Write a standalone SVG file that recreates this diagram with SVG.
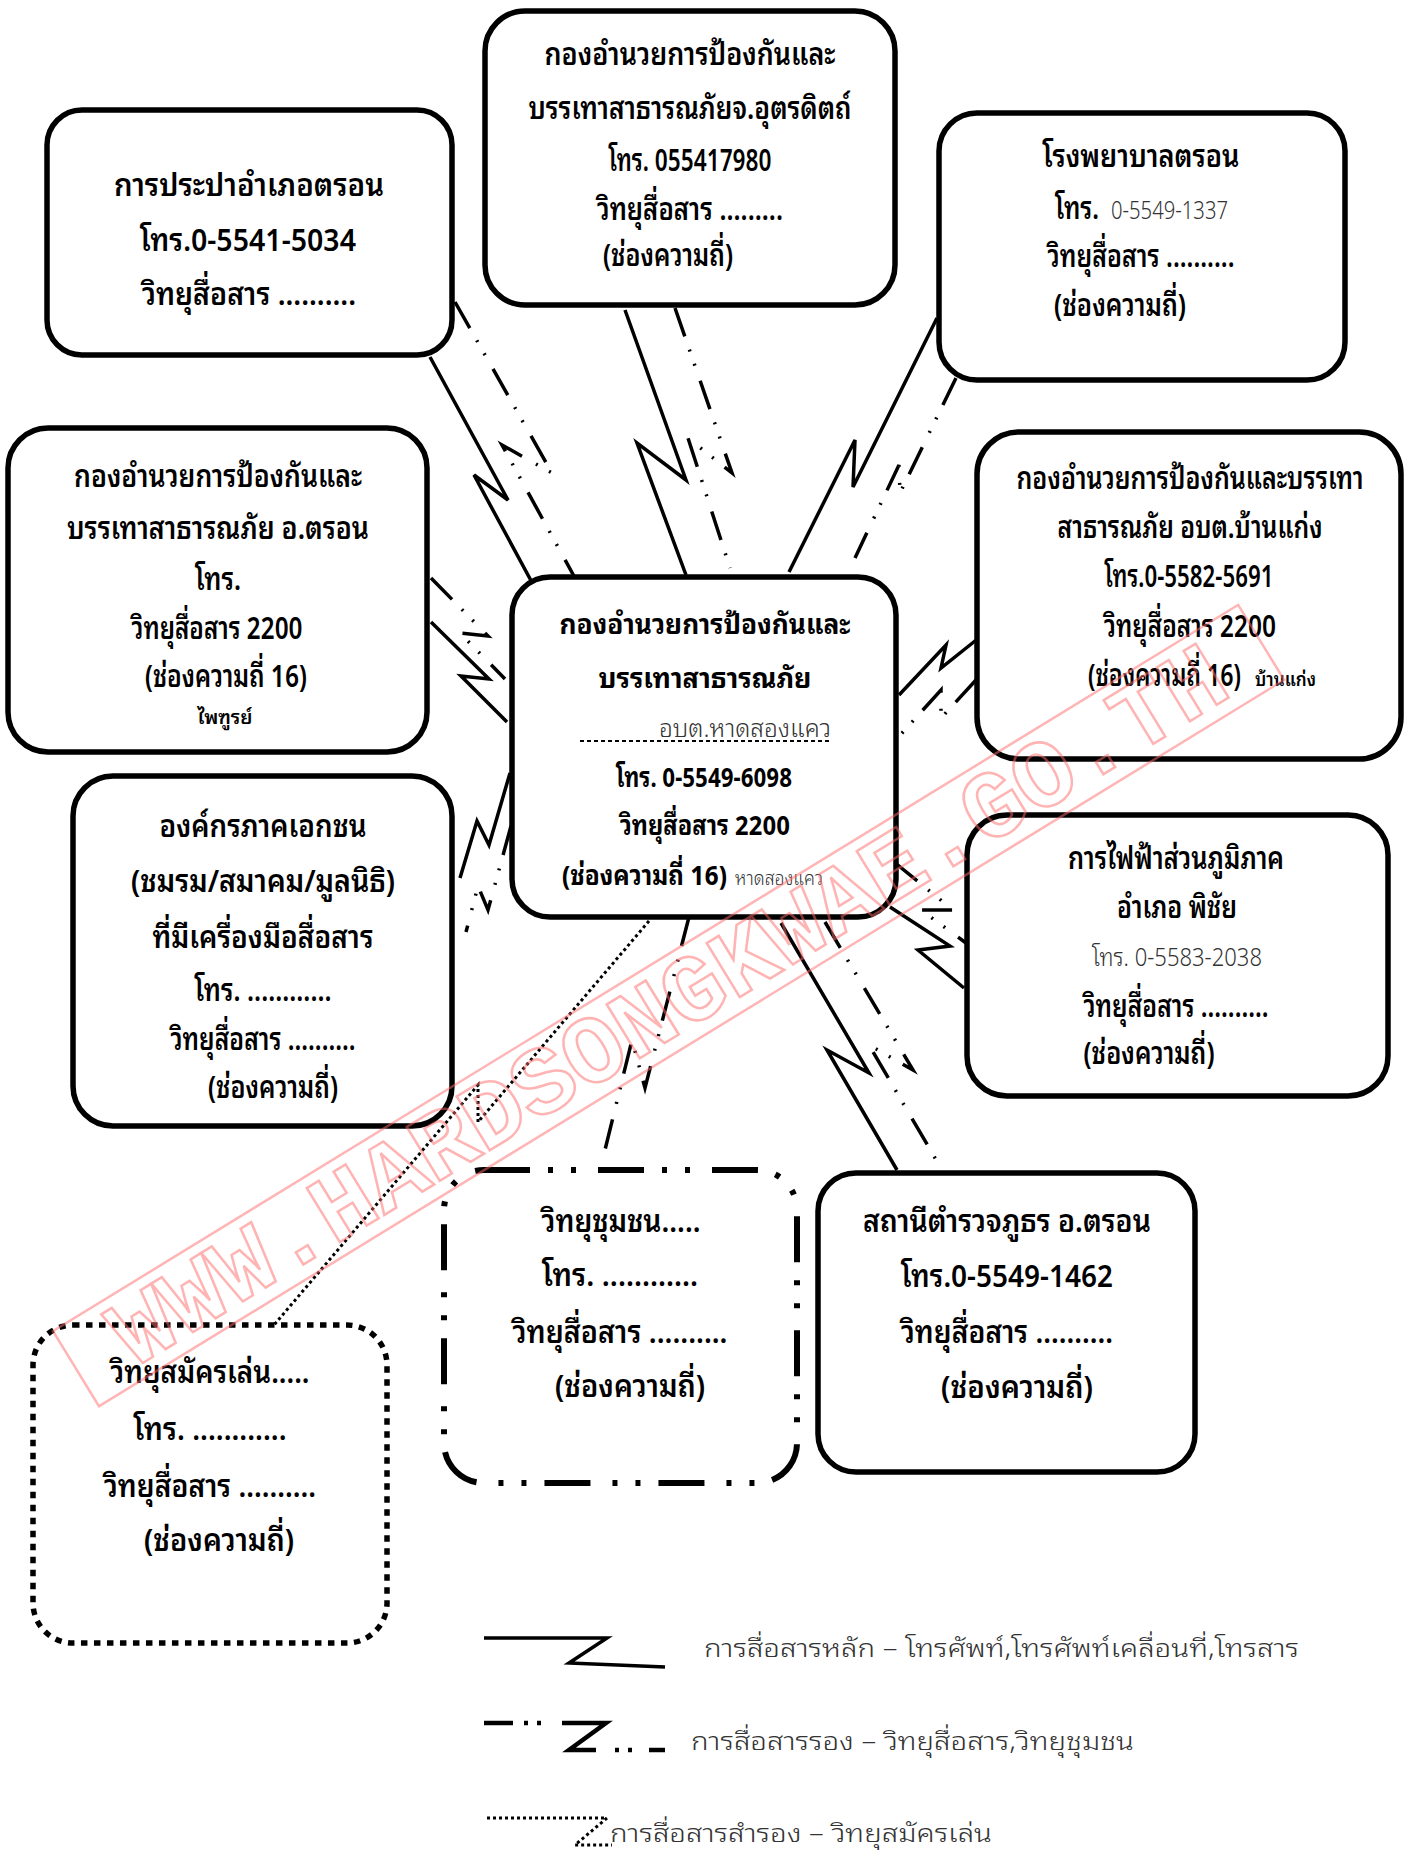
<svg xmlns="http://www.w3.org/2000/svg" width="1414" height="1850" viewBox="0 0 1414 1850">
<style>
.bg{fill:#fff}
.box{fill:#fff;stroke:#000;stroke-width:5.5}
.t{font-family:"Noto Sans Thai Looped","Garuda","Loma","Noto Serif Thai","Noto Sans Thai","Noto Sans",sans-serif;font-size:31px;font-weight:600;text-anchor:middle;fill:#000}
.s{text-anchor:start}
.b{font-weight:bold;font-size:27px}
.l{font-weight:300;fill:#333;font-size:25px}
.sm{font-size:19px}
.con{fill:none;stroke:#000;stroke-width:3.5;stroke-linejoin:miter}
.dd{stroke-dasharray:30 14 2 13 2 16}
.dt{stroke-dasharray:3 3;stroke-width:3}
.wm{fill:none;stroke:#ff6b6b;stroke-width:2.5;opacity:0.5}
</style>
<rect class="bg" x="0" y="0" width="1414" height="1850"/>

<g id="connectors">
  <path class="con" d="M430,357 L508,500 L474,475 L535,588"/>
  <path class="con dd" d="M455,302 L552,473 L502,445 L575,578"/>
  <path class="con" d="M625,310 L686,480 L637,443 L686,575"/>
  <path class="con dd" d="M675,308 L732,473 L688,438 L730,568"/>
  <path class="con" d="M937,318 L853,487 L855,440 L789,572"/>
  <path class="con dd" d="M956,378 L900,493 L899,465 L855,558"/>
  <path class="con" d="M431,622 L489,679 L461,676 L507,722"/>
  <path class="con dd" d="M431,578 L488,636 L460,633 L505,679"/>
  <path class="con" d="M980,637 L941,668 L946,645 L899,695"/>
  <path class="con dd" d="M976,680 L941,718 L941,690 L894,742"/>
  <path class="con" d="M510,773 L489,845 L477,821 L460,878"/>
  <path class="con dd" d="M511,826 L488,910 L478,886 L466,932"/>
  <path class="con" d="M890,907 L950,946 L918,950 L964,988"/>
  <path class="con dd" d="M894,862 L953,910 L921,910 L966,943"/>
  <path class="con" d="M781,923 L869,1073 L827,1050 L897,1170"/>
  <path class="con dd" d="M825,922 L913,1070 L869,1045 L938,1163"/>
  <path class="con dd" d="M689,917 L645,1088 L632,1040 L603,1158"/>
  <path class="con dt" d="M649,921 L478,1122 L478,1085 L274,1325"/>
</g>

<g id="n1">
  <rect class="box" x="47" y="110" width="405" height="245" rx="35"/>
  <text class="t" x="249" y="196" textLength="270" lengthAdjust="spacingAndGlyphs">การประปาอำเภอตรอน</text>
  <text class="t" x="248" y="251" textLength="216" lengthAdjust="spacingAndGlyphs">โทร.0-5541-5034</text>
  <text class="t" x="249" y="305" textLength="214" lengthAdjust="spacingAndGlyphs">วิทยุสื่อสาร ..........</text>
</g>

<g id="n2">
  <rect class="box" x="485" y="11" width="410" height="294" rx="40"/>
  <text class="t" x="690" y="65" textLength="291" lengthAdjust="spacingAndGlyphs">กองอำนวยการป้องกันและ</text>
  <text class="t" x="690" y="119" textLength="323" lengthAdjust="spacingAndGlyphs">บรรเทาสาธารณภัยจ.อุตรดิตถ์</text>
  <text class="t" x="690" y="171" textLength="163" lengthAdjust="spacingAndGlyphs">โทร. 055417980</text>
  <text class="t" x="690" y="220" textLength="186" lengthAdjust="spacingAndGlyphs">วิทยุสื่อสาร .........</text>
  <text class="t" x="668" y="266" textLength="130" lengthAdjust="spacingAndGlyphs">(ช่องความถี่)</text>
</g>

<g id="n3">
  <rect class="box" x="939" y="113" width="406" height="267" rx="38"/>
  <text class="t" x="1141" y="167" textLength="197" lengthAdjust="spacingAndGlyphs">โรงพยาบาลตรอน</text>
  <text class="t s" x="1055" y="219" textLength="44" lengthAdjust="spacingAndGlyphs">โทร.</text>
  <text class="t s l" x="1111" y="219" textLength="117" lengthAdjust="spacingAndGlyphs">0-5549-1337</text>
  <text class="t" x="1141" y="267" textLength="187" lengthAdjust="spacingAndGlyphs">วิทยุสื่อสาร ..........</text>
  <text class="t" x="1120" y="316" textLength="132" lengthAdjust="spacingAndGlyphs">(ช่องความถี่)</text>
</g>

<g id="n4">
  <rect class="box" x="8" y="428" width="419" height="324" rx="40"/>
  <text class="t" x="218" y="487" textLength="288" lengthAdjust="spacingAndGlyphs">กองอำนวยการป้องกันและ</text>
  <text class="t" x="218" y="539" textLength="302" lengthAdjust="spacingAndGlyphs">บรรเทาสาธารณภัย อ.ตรอน</text>
  <text class="t" x="218" y="590" textLength="46" lengthAdjust="spacingAndGlyphs">โทร.</text>
  <text class="t" x="217" y="639" textLength="171" lengthAdjust="spacingAndGlyphs">วิทยุสื่อสาร 2200</text>
  <text class="t" x="226" y="687" textLength="162" lengthAdjust="spacingAndGlyphs">(ช่องความถี่ 16)</text>
  <text class="t sm" x="225" y="724" textLength="55" lengthAdjust="spacingAndGlyphs">ไพฑูรย์</text>
</g>

<g id="n5">
  <rect class="box" x="977" y="432" width="424" height="327" rx="42"/>
  <text class="t" x="1190" y="489" textLength="347" lengthAdjust="spacingAndGlyphs">กองอำนวยการป้องกันและบรรเทา</text>
  <text class="t" x="1190" y="538" textLength="265" lengthAdjust="spacingAndGlyphs">สาธารณภัย อบต.บ้านแก่ง</text>
  <text class="t" x="1189" y="587" textLength="169" lengthAdjust="spacingAndGlyphs">โทร.0-5582-5691</text>
  <text class="t" x="1190" y="637" textLength="172" lengthAdjust="spacingAndGlyphs">วิทยุสื่อสาร 2200</text>
  <text class="t s" x="1088" y="686" textLength="153" lengthAdjust="spacingAndGlyphs">(ช่องความถี่ 16)</text>
  <text class="t s sm" x="1255" y="686" textLength="61" lengthAdjust="spacingAndGlyphs">บ้านแก่ง</text>
</g>

<g id="n6">
  <rect class="box" x="512" y="577" width="384" height="340" rx="38"/>
  <text class="t b" x="705" y="634" textLength="291" lengthAdjust="spacingAndGlyphs">กองอำนวยการป้องกันและ</text>
  <text class="t b" x="705" y="688" textLength="213" lengthAdjust="spacingAndGlyphs">บรรเทาสาธารณภัย</text>
  <line x1="580" y1="741" x2="831" y2="741" stroke="#000" stroke-width="2" stroke-dasharray="4 3"/>
  <text class="t s l" x="659" y="737" textLength="172" lengthAdjust="spacingAndGlyphs">อบต.หาดสองแคว</text>
  <text class="t b" x="704" y="787" textLength="176" lengthAdjust="spacingAndGlyphs">โทร. 0-5549-6098</text>
  <text class="t b" x="705" y="835" textLength="170" lengthAdjust="spacingAndGlyphs">วิทยุสื่อสาร 2200</text>
  <text class="t b s" x="562" y="885" textLength="165" lengthAdjust="spacingAndGlyphs">(ช่องความถี่ 16)</text>
  <text class="t s l sm" x="735" y="885" textLength="88" lengthAdjust="spacingAndGlyphs">หาดสองแคว</text>
</g>

<g id="n7">
  <rect class="box" x="73" y="776" width="379" height="350" rx="40"/>
  <text class="t" x="263" y="837" textLength="207" lengthAdjust="spacingAndGlyphs">องค์กรภาคเอกชน</text>
  <text class="t" x="263" y="892" textLength="264" lengthAdjust="spacingAndGlyphs">(ชมรม/สมาคม/มูลนิธิ)</text>
  <text class="t" x="263" y="948" textLength="221" lengthAdjust="spacingAndGlyphs">ที่มีเครื่องมือสื่อสาร</text>
  <text class="t" x="263" y="1001" textLength="137" lengthAdjust="spacingAndGlyphs">โทร. ............</text>
  <text class="t" x="263" y="1050" textLength="185" lengthAdjust="spacingAndGlyphs">วิทยุสื่อสาร ..........</text>
  <text class="t" x="273" y="1098" textLength="130" lengthAdjust="spacingAndGlyphs">(ช่องความถี่)</text>
</g>

<g id="n8">
  <rect class="box" x="967" y="815" width="421" height="281" rx="40"/>
  <text class="t" x="1176" y="869" textLength="216" lengthAdjust="spacingAndGlyphs">การไฟฟ้าส่วนภูมิภาค</text>
  <text class="t" x="1177" y="918" textLength="120" lengthAdjust="spacingAndGlyphs">อำเภอ พิชัย</text>
  <text class="t l" x="1177" y="966" textLength="170" lengthAdjust="spacingAndGlyphs">โทร. 0-5583-2038</text>
  <text class="t" x="1176" y="1017" textLength="185" lengthAdjust="spacingAndGlyphs">วิทยุสื่อสาร ..........</text>
  <text class="t" x="1149" y="1064" textLength="131" lengthAdjust="spacingAndGlyphs">(ช่องความถี่)</text>
</g>

<g id="n9">
  <rect x="444" y="1170" width="353" height="313" rx="40" fill="#fff" stroke="#000" stroke-width="6" stroke-dasharray="46 18 5 18 5 22"/>
  <text class="t" x="621" y="1232" textLength="159" lengthAdjust="spacingAndGlyphs">วิทยุชุมชน.....</text>
  <text class="t" x="620" y="1286" textLength="156" lengthAdjust="spacingAndGlyphs">โทร. ............</text>
  <text class="t" x="620" y="1343" textLength="215" lengthAdjust="spacingAndGlyphs">วิทยุสื่อสาร ..........</text>
  <text class="t" x="630" y="1397" textLength="150" lengthAdjust="spacingAndGlyphs">(ช่องความถี่)</text>
</g>

<g id="n10">
  <rect class="box" x="818" y="1173" width="377" height="299" rx="38"/>
  <text class="t" x="1007" y="1232" textLength="288" lengthAdjust="spacingAndGlyphs">สถานีตำรวจภูธร อ.ตรอน</text>
  <text class="t" x="1007" y="1287" textLength="212" lengthAdjust="spacingAndGlyphs">โทร.0-5549-1462</text>
  <text class="t" x="1007" y="1343" textLength="212" lengthAdjust="spacingAndGlyphs">วิทยุสื่อสาร ..........</text>
  <text class="t" x="1017" y="1398" textLength="152" lengthAdjust="spacingAndGlyphs">(ช่องความถี่)</text>
</g>

<g id="n11">
  <rect x="33" y="1325" width="354" height="318" rx="40" fill="#fff" stroke="#000" stroke-width="5.5" stroke-dasharray="6.5 6.5"/>
  <text class="t" x="210" y="1383" textLength="199" lengthAdjust="spacingAndGlyphs">วิทยุสมัครเล่น.....</text>
  <text class="t" x="210" y="1440" textLength="153" lengthAdjust="spacingAndGlyphs">โทร. ............</text>
  <text class="t" x="210" y="1497" textLength="212" lengthAdjust="spacingAndGlyphs">วิทยุสื่อสาร ..........</text>
  <text class="t" x="219" y="1551" textLength="150" lengthAdjust="spacingAndGlyphs">(ช่องความถี่)</text>
</g>

<g id="legend">
  <path class="con" stroke-width="4" d="M484,1638 L607,1638 L569,1663 L665,1667"/>
  <text class="t s l" x="704" y="1657" font-size="30" textLength="595" lengthAdjust="spacingAndGlyphs">การสื่อสารหลัก – โทรศัพท์,โทรศัพท์เคลื่อนที่,โทรสาร</text>
  <g stroke="#000" stroke-width="4.5" fill="none">
    <line x1="484" y1="1723" x2="513" y2="1723"/>
    <line x1="524" y1="1723" x2="528" y2="1723"/>
    <line x1="537" y1="1723" x2="541" y2="1723"/>
    <path d="M562,1723 L606,1723 L569,1750 L596,1750"/>
    <line x1="615" y1="1750" x2="619" y2="1750"/>
    <line x1="628" y1="1750" x2="632" y2="1750"/>
    <line x1="649" y1="1750" x2="665" y2="1750"/>
  </g>
  <text class="t s l" x="691" y="1750" font-size="30" textLength="443" lengthAdjust="spacingAndGlyphs">การสื่อสารรอง – วิทยุสื่อสาร,วิทยุชุมชน</text>
  <path class="con dt" d="M487,1818 L607,1818 L575,1845 L612,1845"/>
  <text class="t s l" x="610" y="1842" font-size="30" textLength="382" lengthAdjust="spacingAndGlyphs">การสื่อสารสำรอง – วิทยุสมัครเล่น</text>
</g>

<g id="watermark" transform="rotate(-31.5 667 1003)">
  <rect class="wm" x="-28" y="962" width="1390" height="88"/>
  <text class="wm" x="667" y="1036" text-anchor="middle" font-family="Liberation Mono, monospace" font-weight="bold" font-size="96" textLength="1290" lengthAdjust="spacingAndGlyphs">WWW.HARDSONGKWAE.GO.TH</text>
</g>
</svg>
